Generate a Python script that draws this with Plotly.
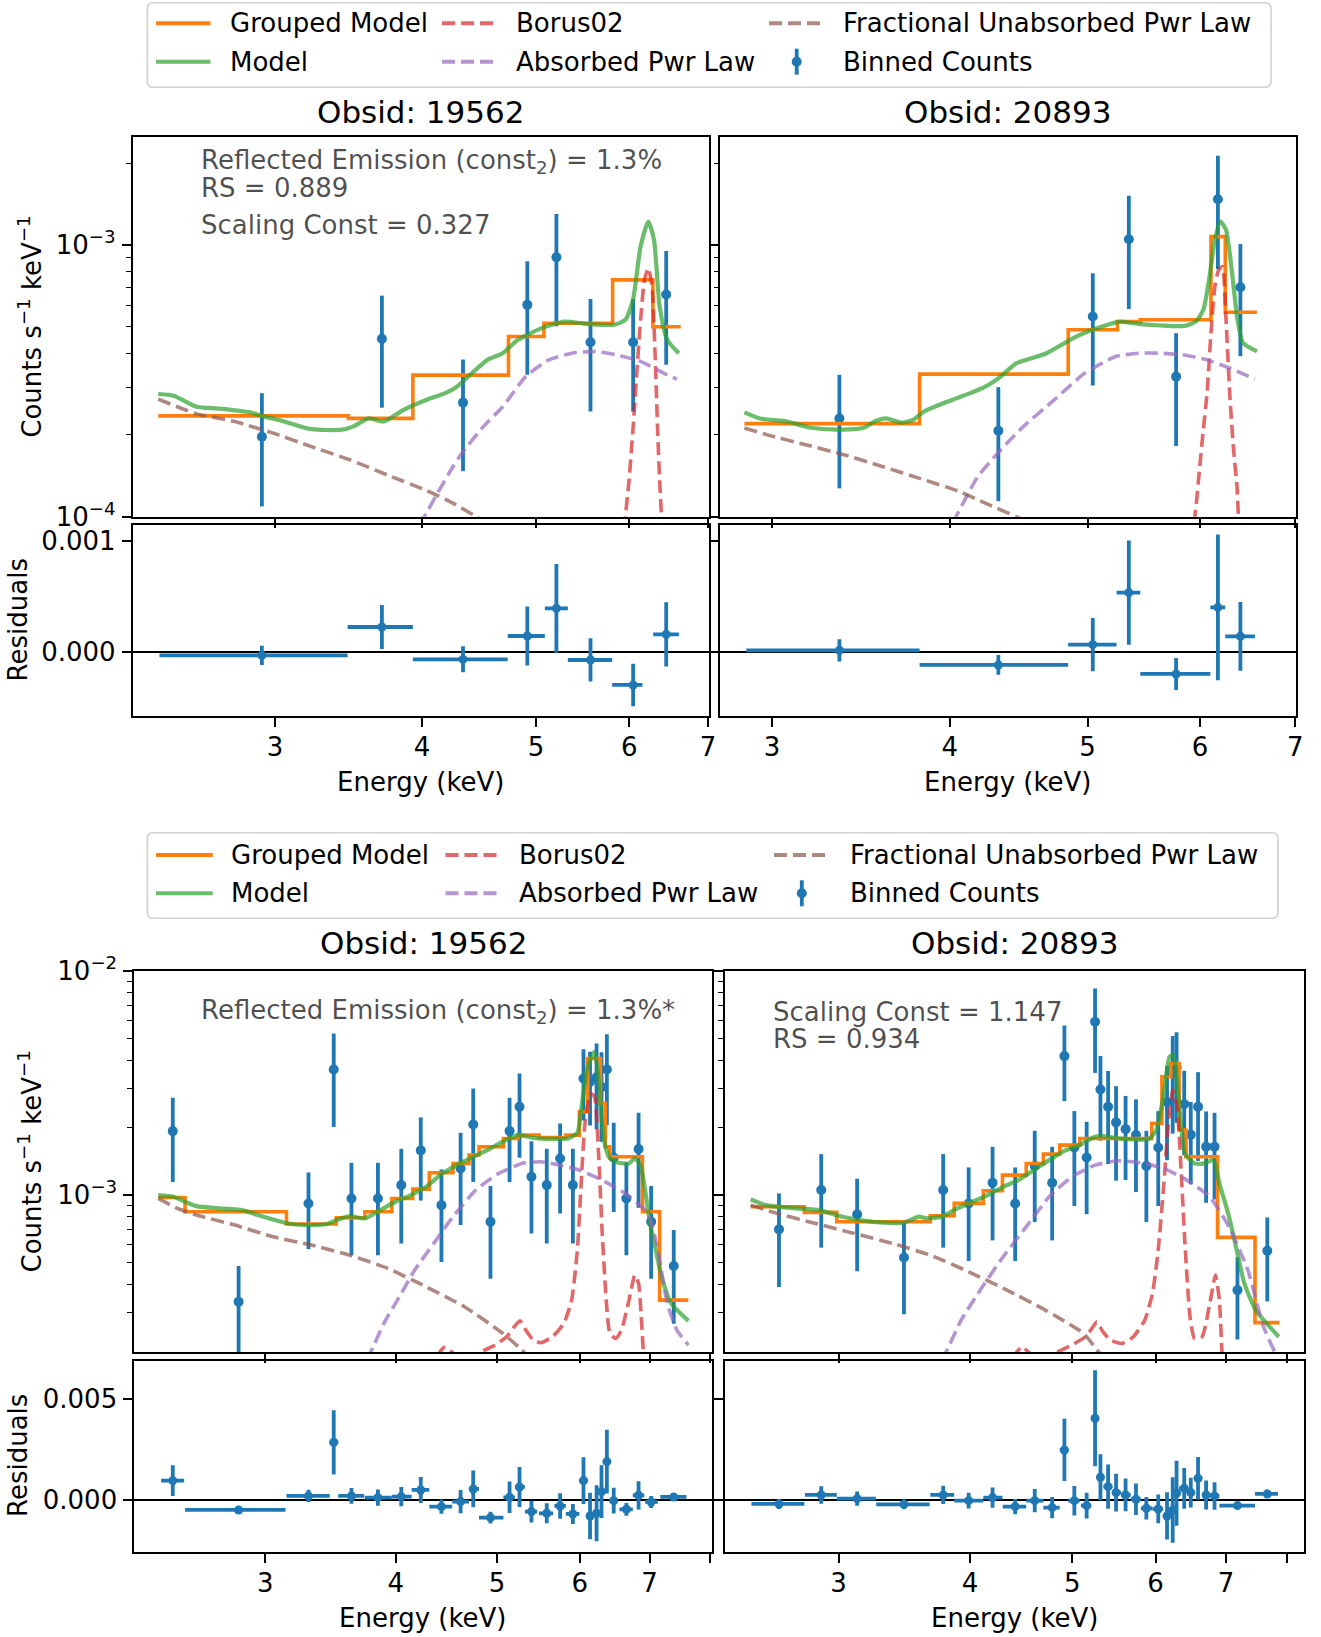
import plotly.graph_objects as go

FONT = "DejaVu Sans"
W, H = 1321, 1637
BLUE = "#1f77b4"
ORANGE = "#ff7f0e"
GREEN = "rgba(44,160,44,0.7)"
RED = "rgba(214,39,40,0.7)"
PURPLE = "rgba(148,103,189,0.7)"
BROWN = "rgba(140,86,75,0.7)"
DASH = "13px,6px"

# ---------------- Fit 1, Obsid 19562 ----------------
tl_E = [2.924, 3.698, 4.334, 4.915, 5.203, 5.562, 6.046, 6.450]
tl_counts = [1.97e-4, 4.52e-4, 2.63e-4, 6.03e-4, 9.03e-4, 4.39e-4, 4.39e-4, 6.58e-4]
tl_err = [0.88e-4, 2.0e-4, 1.16e-4, 2.7e-4, 4.0e-4, 1.95e-4, 1.95e-4, 2.95e-4]
tl_res = [-0.030e-3, 0.225e-3, -0.066e-3, 0.144e-3, 0.393e-3, -0.072e-3, -0.297e-3, 0.159e-3]
tl_res_err = [0.087e-3, 0.198e-3, 0.117e-3, 0.266e-3, 0.40e-3, 0.195e-3, 0.192e-3, 0.29e-3]
tl_bin_lo = [2.393, 3.458, 3.929, 4.730, 5.087, 5.321, 5.803, 6.288]
tl_bin_hi = [3.458, 3.929, 4.730, 5.087, 5.321, 5.803, 6.157, 6.612]
tl_grp_edges = [2.387, 3.464, 3.929, 4.737, 5.078, 5.808, 6.284, 6.636]
tl_grp_vals = [2.35e-4, 2.30e-4, 3.32e-4, 4.61e-4, 5.16e-4, 7.45e-4, 5.01e-4]
tl_model_E = [2.387, 2.460, 2.573, 2.691, 2.857, 2.922, 3.034, 3.221, 3.420, 3.498, 3.604,
              3.713, 3.855, 4.033, 4.187, 4.282, 4.412, 4.546, 4.684, 4.826, 5.049, 5.281,
              5.524, 5.821, 5.954, 6.044, 6.135, 6.228, 6.298, 6.368, 6.464, 6.611]
tl_model = [2.83e-4, 2.79e-4, 2.54e-4, 2.50e-4, 2.42e-4, 2.35e-4, 2.26e-4, 2.10e-4, 2.09e-4,
            2.15e-4, 2.30e-4, 2.24e-4, 2.47e-4, 2.69e-4, 2.85e-4, 3.01e-4, 3.38e-4, 3.78e-4,
            4.00e-4, 4.48e-4, 4.94e-4, 5.23e-4, 5.13e-4, 5.09e-4, 5.31e-4, 6.29e-4, 9.89e-4,
            1.222e-3, 1.047e-3, 5.94e-4, 4.48e-4, 4.00e-4]
tl_borus_E = [5.93, 5.954, 5.998, 6.044, 6.089, 6.135, 6.181, 6.228, 6.274, 6.311, 6.344, 6.368, 6.392, 6.41]
tl_borus = [9e-5, 1.0e-4, 1.36e-4, 2.09e-4, 3.38e-4, 5.31e-4, 7.45e-4, 8.23e-4, 7.05e-4,
            4.00e-4, 2.03e-4, 1.36e-4, 1.0e-4, 9e-5]
tl_abs_E = [3.98, 4.018, 4.124, 4.250, 4.346, 4.512, 4.684, 4.899, 5.125, 5.361, 5.607, 5.864, 6.135, 6.417, 6.587]
tl_abs = [9.3e-5, 1.0e-4, 1.22e-4, 1.53e-4, 1.76e-4, 2.15e-4, 2.54e-4, 3.28e-4, 3.78e-4,
          4.00e-4, 4.06e-4, 3.94e-4, 3.73e-4, 3.38e-4, 3.21e-4]
tl_unabs_E = [2.387, 2.478, 2.573, 2.773, 2.989, 3.221, 3.472, 3.742, 4.033, 4.250, 4.446, 4.55]
tl_unabs = [2.71e-4, 2.54e-4, 2.39e-4, 2.24e-4, 2.03e-4, 1.81e-4, 1.62e-4, 1.42e-4, 1.25e-4,
            1.12e-4, 1.0e-4, 9.4e-5]

# ---------------- Fit 1, Obsid 20893 ----------------
tr_E = [3.346, 4.328, 5.043, 5.346, 5.771, 6.175, 6.404]
tr_counts = [2.30e-4, 2.07e-4, 5.46e-4, 1.052e-3, 3.28e-4, 1.477e-3, 7.00e-4]
tr_err = [1.03e-4, 0.93e-4, 2.42e-4, 4.7e-4, 1.46e-4, 6.6e-4, 3.1e-4]
tr_res = [0.015e-3, -0.117e-3, 0.066e-3, 0.535e-3, -0.198e-3, 0.402e-3, 0.141e-3]
tr_res_err = [0.10e-3, 0.089e-3, 0.24e-3, 0.47e-3, 0.144e-3, 0.656e-3, 0.31e-3]
tr_bin_lo = [2.878, 3.810, 4.846, 5.241, 5.446, 6.100, 6.249]
tr_bin_hi = [3.810, 4.846, 5.241, 5.446, 6.100, 6.249, 6.557]
tr_grp_edges = [2.869, 3.810, 4.846, 5.248, 5.446, 6.106, 6.249, 6.578]
tr_grp_vals = [2.20e-4, 3.35e-4, 4.88e-4, 5.23e-4, 5.31e-4, 1.076e-3, 5.66e-4]
tr_model_E = [2.869, 2.942, 3.072, 3.188, 3.329, 3.477, 3.542, 3.608, 3.698, 3.768, 3.838, 3.984,
              4.135, 4.238, 4.344, 4.454, 4.565, 4.679, 4.793, 4.913, 5.04, 5.167, 5.264, 5.429,
              5.634, 5.848, 5.957, 6.031, 6.087, 6.145, 6.199, 6.257, 6.315, 6.374, 6.433, 6.578]
tr_model = [2.42e-4, 2.30e-4, 2.24e-4, 2.13e-4, 2.09e-4, 2.12e-4, 2.24e-4, 2.30e-4, 2.22e-4,
            2.27e-4, 2.44e-4, 2.65e-4, 2.85e-4, 3.01e-4, 3.28e-4, 3.67e-4, 3.83e-4, 4.00e-4,
            4.29e-4, 4.61e-4, 4.88e-4, 5.09e-4, 5.23e-4, 5.13e-4, 5.06e-4, 5.04e-4, 5.23e-4,
            5.78e-4, 7.45e-4, 1.047e-3, 1.222e-3, 1.139e-3, 8.11e-4, 5.31e-4, 4.36e-4, 4.06e-4]
tr_borus_E = [5.94, 5.957, 5.994, 6.031, 6.068, 6.106, 6.145, 6.183, 6.221, 6.257, 6.298, 6.337, 6.369, 6.384, 6.39]
tr_borus = [9.5e-5, 1.06e-4, 1.49e-4, 2.09e-4, 2.85e-4, 4.74e-4, 7.05e-4, 8.11e-4, 8.34e-4,
            5.31e-4, 2.69e-4, 1.71e-4, 1.29e-4, 1.0e-4, 9.5e-5]
tr_abs_E = [4.02, 4.053, 4.185, 4.344, 4.508, 4.737, 4.979, 5.232, 5.429, 5.634, 5.848, 6.068, 6.298, 6.557]
tr_abs = [9.5e-5, 1.03e-4, 1.40e-4, 1.76e-4, 2.15e-4, 2.69e-4, 3.38e-4, 3.89e-4, 4.00e-4,
          4.00e-4, 3.94e-4, 3.78e-4, 3.52e-4, 3.21e-4]
tr_unabs_E = [2.869, 2.978, 3.168, 3.371, 3.586, 3.815, 4.058, 4.238, 4.454, 4.55]
tr_unabs = [2.12e-4, 2.00e-4, 1.84e-4, 1.69e-4, 1.53e-4, 1.38e-4, 1.24e-4, 1.12e-4, 1.0e-4, 9.5e-5]

# ---------------- Fit 2, Obsid 19562 ----------------
bl_E = [2.446, 2.828, 3.299, 3.488, 3.627, 3.845, 4.048, 4.226, 4.423, 4.614, 4.744, 4.928, 5.140,
        5.254, 5.394, 5.579, 5.746, 5.910, 6.050, 6.138, 6.227, 6.295, 6.370, 6.467, 6.650, 6.831,
        7.023, 7.382]
bl_counts = [1.929e-3, 3.345e-4, 9.18e-4, 3.633e-3, 9.66e-4, 9.66e-4, 1.108e-3, 1.582e-3, 9.02e-4,
             1.315e-3, 2.065e-3, 7.605e-4, 1.929e-3, 2.476e-3, 1.207e-3, 1.108e-3, 1.457e-3,
             1.108e-3, 3.311e-3, 3.2e-3, 3.35e-3, 3.03e-3, 3.633e-3, 1.470e-3, 9.66e-4, 1.603e-3,
             7.605e-4, 4.826e-4]
bl_err = [7.85e-4, 1.48e-4, 3.44e-4, 1.62e-3, 4.27e-4, 4.27e-4, 5.0e-4, 6.37e-4, 3.99e-4, 5.8e-4,
          9.2e-4, 3.37e-4, 7.85e-4, 1.01e-3, 5.33e-4, 5.0e-4, 6.3e-4, 5.0e-4, 1.16e-3, 1.155e-3,
          1.386e-3, 1.30e-3, 1.58e-3, 6.3e-4, 4.27e-4, 7.25e-4, 3.37e-4, 2.16e-4]
bl_res = [0.974e-3, -0.479e-3, 0.215e-3, 2.871e-3, 0.215e-3, 0.132e-3, 0.182e-3, 0.512e-3,
          -0.314e-3, -0.066e-3, 0.561e-3, -0.858e-3, 0.149e-3, 0.660e-3, -0.561e-3, -0.644e-3,
          -0.281e-3, -0.677e-3, 0.974e-3, -0.776e-3, -0.644e-3, 0.429e-3, 1.914e-3, -0.02e-3,
          -0.446e-3, 0.248e-3, -0.083e-3, 0.165e-3]
bl_res_err = [0.759e-3, 0.165e-3, 0.305e-3, 1.59e-3, 0.388e-3, 0.404e-3, 0.479e-3, 0.644e-3,
              0.347e-3, 0.578e-3, 0.908e-3, 0.289e-3, 0.784e-3, 0.99e-3, 0.536e-3, 0.495e-3,
              0.627e-3, 0.495e-3, 1.155e-3, 1.155e-3, 1.386e-3, 1.30e-3, 1.584e-3, 0.635e-3,
              0.314e-3, 0.70e-3, 0.297e-3, 0.18e-3]
bl_bin_lo = [2.384, 2.513, 3.143, 3.457, 3.523, 3.735, 3.965, 4.142, 4.306, 4.529, 4.700, 4.805,
             5.071, 5.201, 5.317, 5.485, 5.674, 5.819, 5.995, 6.107, 6.180, 6.264, 6.337, 6.412,
             6.549, 6.745, 6.931, 7.167]
bl_bin_hi = [2.508, 3.136, 3.457, 3.523, 3.730, 3.965, 4.142, 4.306, 4.529, 4.700, 4.805, 5.071,
             5.201, 5.317, 5.462, 5.659, 5.819, 5.995, 6.107, 6.180, 6.264, 6.337, 6.412, 6.522,
             6.745, 6.918, 7.127, 7.591]
bl_grp_edges = [2.369, 2.513, 3.143, 3.507, 3.736, 3.965, 4.152, 4.306, 4.537, 4.700, 4.805, 5.071,
                5.236, 5.485, 5.674, 5.819, 5.995, 6.107, 6.280, 6.349, 6.412, 6.890, 7.156, 7.625]
bl_grp_vals = [9.76e-4, 8.43e-4, 7.43e-4, 7.93e-4, 8.43e-4, 9.66e-4, 1.063e-3, 1.258e-3, 1.384e-3,
               1.508e-3, 1.642e-3, 1.789e-3, 1.851e-3, 1.807e-3, 1.807e-3, 1.851e-3, 2.352e-3,
               4.066e-3, 2.562e-3, 1.642e-3, 1.483e-3, 8.43e-4, 3.40e-4]
bl_model_E = [2.369, 2.449, 2.513, 2.577, 2.711, 2.852, 2.950, 3.051, 3.156, 3.320, 3.434, 3.523,
              3.612, 3.736, 3.865, 3.998, 4.135, 4.277, 4.423, 4.575, 4.732, 4.894, 5.063, 5.236,
              5.416, 5.603, 5.844, 5.969, 6.019, 6.095, 6.157, 6.199, 6.252, 6.294, 6.349, 6.412,
              6.522, 6.689, 6.774, 6.860, 6.930, 7.006, 7.096, 7.187, 7.340, 7.625]
bl_model = [1.0e-3, 9.83e-4, 9.34e-4, 8.93e-4, 8.72e-4, 8.57e-4, 8.15e-4, 7.79e-4, 7.47e-4, 7.35e-4,
            7.43e-4, 7.79e-4, 8.06e-4, 7.87e-4, 8.57e-4, 9.34e-4, 1.0e-3, 1.089e-3, 1.241e-3,
            1.360e-3, 1.472e-3, 1.587e-3, 1.729e-3, 1.851e-3, 1.80e-3, 1.782e-3, 1.789e-3,
            1.896e-3, 2.392e-3, 3.607e-3, 4.136e-3, 4.355e-3, 3.369e-3, 2.234e-3, 1.642e-3,
            1.457e-3, 1.398e-3, 1.384e-3, 1.457e-3, 1.360e-3, 1.053e-3, 7.47e-4, 5.69e-4, 4.33e-4,
            3.29e-4, 2.75e-4]
bl_borus_E = [4.38, 4.405, 4.454, 4.499, 4.529, 4.652, 4.813, 4.979, 5.107, 5.194, 5.260, 5.327,
              5.416, 5.508, 5.650, 5.794, 5.894, 5.969, 6.019, 6.070, 6.148, 6.199, 6.252, 6.305,
              6.361, 6.412, 6.495, 6.578, 6.689, 6.774, 6.831, 6.872, 6.907, 6.93]
bl_borus = [1.9e-4, 1.99e-4, 2.094e-4, 2.05e-4, 1.99e-4, 1.84e-4, 1.99e-4, 2.145e-4, 2.335e-4,
            2.588e-4, 2.753e-4, 2.50e-4, 2.257e-4, 2.197e-4, 2.335e-4, 2.68e-4, 3.40e-4, 5.69e-4,
            1.127e-3, 2.087e-3, 2.839e-3, 2.744e-3, 1.587e-3, 6.75e-4, 3.40e-4, 2.42e-4, 2.297e-4,
            2.50e-4, 3.40e-4, 4.40e-4, 4.04e-4, 2.87e-4, 1.99e-4, 1.9e-4]
bl_abs_E = [3.75, 3.784, 3.896, 4.031, 4.170, 4.349, 4.537, 4.771, 5.018, 5.281, 5.508, 5.746,
            5.995, 6.305, 6.633, 6.978, 7.127, 7.278, 7.433, 7.625]
bl_abs = [1.85e-4, 1.99e-4, 2.68e-4, 3.52e-4, 4.63e-4, 6.09e-4, 8.01e-4, 1.053e-3, 1.249e-3,
          1.384e-3, 1.408e-3, 1.360e-3, 1.292e-3, 1.166e-3, 1.017e-3, 8.28e-4, 5.69e-4, 3.29e-4,
          2.50e-4, 2.145e-4]
bl_unabs_E = [2.369, 2.470, 2.577, 2.804, 3.051, 3.320, 3.612, 3.931, 4.277, 4.652, 5.063, 5.281, 5.35]
bl_unabs = [9.66e-4, 8.72e-4, 8.15e-4, 7.35e-4, 6.52e-4, 5.99e-4, 5.40e-4, 4.71e-4, 3.90e-4,
            3.18e-4, 2.42e-4, 2.04e-4, 1.9e-4]

# ---------------- Fit 2, Obsid 20893 ----------------
br_E = [2.633, 2.888, 3.124, 3.461, 3.771, 3.987, 4.201, 4.414, 4.607, 4.786, 4.916, 5.024, 5.161,
        5.257, 5.319, 5.409, 5.504, 5.620, 5.749, 5.881, 6.036, 6.153, 6.230, 6.283, 6.389, 6.481,
        6.585, 6.702, 6.827, 7.178, 7.662]
br_counts = [7.03e-4, 1.053e-3, 8.20e-4, 5.27e-4, 1.053e-3, 9.18e-4, 1.135e-3, 9.18e-4, 1.347e-3,
             1.135e-3, 4.165e-3, 1.631e-3, 1.472e-3, 5.925e-3, 2.958e-3, 2.476e-3, 2.109e-3,
             1.968e-3, 1.851e-3, 1.347e-3, 1.631e-3, 2.6e-3, 3.5e-3, 3.71e-3, 2.544e-3, 1.86e-3,
             2.476e-3, 1.642e-3, 1.642e-3, 3.77e-4, 5.65e-4]
br_err = [3.14e-4, 4.7e-4, 3.63e-4, 2.33e-4, 4.7e-4, 4.1e-4, 5.07e-4, 4.1e-4, 5.88e-4, 5.07e-4,
          1.54e-3, 7.37e-4, 6.5e-4, 2.42e-3, 1.21e-3, 1.10e-3, 0.95e-3, 0.80e-3, 0.82e-3, 5.88e-4,
          7.37e-4, 1.17e-3, 1.62e-3, 1.61e-3, 1.04e-3, 0.743e-3, 1.056e-3, 0.718e-3, 0.685e-3,
          1.5e-4, 2.3e-4]
br_res = [-0.182e-3, 0.264e-3, 0.083e-3, -0.198e-3, 0.264e-3, -0.017e-3, 0.132e-3, -0.314e-3,
          -0.017e-3, -0.363e-3, 2.492e-3, -0.017e-3, -0.264e-3, 4.059e-3, 1.139e-3, 0.677e-3,
          0.380e-3, 0.264e-3, 0.050e-3, -0.396e-3, -0.429e-3, -0.776e-3, -0.479e-3, 0.347e-3,
          0.594e-3, 0.380e-3, 1.089e-3, 0.264e-3, 0.215e-3, -0.264e-3, 0.314e-3]
br_res_err = [0.25e-3, 0.43e-3, 0.35e-3, 0.25e-3, 0.45e-3, 0.39e-3, 0.50e-3, 0.38e-3, 0.58e-3,
              0.52e-3, 1.54e-3, 0.73e-3, 0.64e-3, 2.38e-3, 1.14e-3, 1.09e-3, 0.93e-3, 0.81e-3,
              0.78e-3, 0.56e-3, 0.71e-3, 1.17e-3, 1.62e-3, 1.61e-3, 1.01e-3, 0.74e-3, 1.06e-3,
              0.72e-3, 0.68e-3, 0.124e-3, 0.206e-3]
br_bin_lo = [2.479, 2.787, 2.988, 3.257, 3.666, 3.863, 4.117, 4.296, 4.522, 4.695, 4.866, 4.957,
             5.097, 5.213, 5.292, 5.354, 5.459, 5.565, 5.683, 5.811, 5.960, 6.100, 6.194, 6.255,
             6.318, 6.435, 6.534, 6.644, 6.767, 6.900, 7.459]
br_bin_hi = [2.783, 2.988, 3.254, 3.661, 3.863, 4.117, 4.293, 4.522, 4.695, 4.866, 4.957, 5.083,
             5.213, 5.292, 5.354, 5.459, 5.565, 5.683, 5.811, 5.960, 6.100, 6.194, 6.255, 6.318,
             6.435, 6.534, 6.644, 6.767, 6.900, 7.459, 7.844]
br_grp_edges = [2.475, 2.783, 2.988, 3.666, 3.863, 4.117, 4.293, 4.522, 4.695, 4.866, 5.083, 5.950,
                6.085, 6.204, 6.318, 6.414, 6.872, 7.459, 7.870]
br_grp_vals = [8.87e-4, 8.37e-4, 7.60e-4, 8.09e-4, 9.18e-4, 1.045e-3, 1.228e-3, 1.384e-3, 1.523e-3,
               1.671e-3, 1.789e-3, 2.087e-3, 3.369e-3, 3.862e-3, 1.949e-3, 1.483e-3, 6.48e-4, 2.70e-4]
br_model_E = [2.475, 2.559, 2.736, 2.877, 3.025, 3.235, 3.458, 3.576, 3.636, 3.760, 3.888, 4.021,
              4.157, 4.300, 4.446, 4.598, 4.755, 4.916, 5.083, 5.257, 5.346, 5.528, 5.716, 5.910,
              6.010, 6.111, 6.187, 6.239, 6.291, 6.343, 6.399, 6.534, 6.672, 6.813, 6.900, 7.047,
              7.166, 7.287, 7.472, 7.857]
br_model = [9.565e-4, 9.02e-4, 8.72e-4, 8.57e-4, 8.01e-4, 7.60e-4, 7.53e-4, 8.01e-4, 7.87e-4,
            8.01e-4, 8.72e-4, 9.34e-4, 1.0e-3, 1.089e-3, 1.166e-3, 1.292e-3, 1.432e-3, 1.576e-3,
            1.671e-3, 1.820e-3, 1.832e-3, 1.789e-3, 1.770e-3, 1.776e-3, 1.949e-3, 2.839e-3,
            4.136e-3, 4.208e-3, 3.146e-3, 2.087e-3, 1.533e-3, 1.384e-3, 1.384e-3, 1.432e-3,
            1.127e-3, 8.01e-4, 5.69e-4, 4.04e-4, 3.07e-4, 2.335e-4]
br_borus_E = [4.40, 4.428, 4.484, 4.541, 4.676, 4.835, 4.998, 5.147, 5.234, 5.278, 5.346, 5.437,
              5.575, 5.716, 5.861, 5.960, 6.036, 6.111, 6.172, 6.230, 6.291, 6.343, 6.399, 6.470,
              6.534, 6.644, 6.757, 6.841, 6.900, 6.940, 6.96]
br_borus = [1.85e-4, 1.99e-4, 2.108e-4, 2.0e-4, 1.84e-4, 1.99e-4, 2.145e-4, 2.335e-4, 2.588e-4,
            2.725e-4, 2.46e-4, 2.257e-4, 2.18e-4, 2.335e-4, 2.77e-4, 3.64e-4, 5.69e-4, 1.127e-3,
            2.087e-3, 2.938e-3, 2.476e-3, 1.337e-3, 6.09e-4, 2.87e-4, 2.297e-4, 2.335e-4, 3.29e-4,
            4.40e-4, 3.40e-4, 1.99e-4, 1.85e-4]
br_abs_E = [3.75, 3.793, 3.922, 4.089, 4.300, 4.522, 4.755, 4.998, 5.257, 5.528, 5.811, 6.111,
            6.427, 6.757, 7.047, 7.346, 7.597, 7.790, 7.9]
br_abs = [1.85e-4, 1.99e-4, 2.77e-4, 3.77e-4, 5.31e-4, 7.22e-4, 9.83e-4, 1.207e-3, 1.360e-3,
          1.422e-3, 1.393e-3, 1.315e-3, 1.166e-3, 9.83e-4, 7.22e-4, 4.6e-4, 2.6e-4, 2.0e-4, 1.85e-4]
br_unabs_E = [2.475, 2.624, 2.853, 3.102, 3.373, 3.666, 3.987, 4.336, 4.714, 5.126, 5.302, 5.4]
br_unabs = [9.02e-4, 8.28e-4, 7.47e-4, 6.75e-4, 6.09e-4, 5.40e-4, 4.55e-4, 3.77e-4, 3.07e-4,
            2.42e-4, 1.99e-4, 1.85e-4]

x_ticks_top = [3, 4, 5, 6, 7]
x_ticks_bottom = [3, 4, 5, 6, 7, 8]
x_labels_bottom = ["3", "4", "5", "6", "7", ""]

legend_labels = ["Grouped Model", "Borus02", "Fractional Unabsorbed Pwr Law",
                 "Model", "Absorbed Pwr Law", "Binned Counts"]
obsids = ["Obsid: 19562", "Obsid: 20893"]


def fx(px):
    return px / W


def fy(py):
    return 1 - py / H


def ref(n):
    return "" if n == 1 else str(n)


fig = go.Figure()
AX = dict(showline=True, linecolor="black", linewidth=1.6, mirror=True, ticks="outside",
          ticklen=9, tickwidth=1.5, tickcolor="black", showgrid=False, zeroline=False,
          automargin=False, tickfont=dict(family=FONT, size=26, color="black"))


def add_panel(n, d, xpx, main_ypx, res_ypx, xr, main_yr, res_yr, ymain_ticks, ymain_text,
              yminor, yres_ticks, yres_text, xticks, xtext, show_y):
    m = n + 1
    xa, ya, xb, yb = "x" + ref(n), "y" + ref(n), "x" + ref(m), "y" + ref(m)
    # measured spectrum
    fig.add_trace(go.Scatter(x=d["E"], y=d["counts"], mode="markers", xaxis=xa, yaxis=ya,
                             marker=dict(color=BLUE, size=10),
                             error_y=dict(type="data", array=d["err"], color=BLUE, thickness=3.8, width=0),
                             showlegend=False, hoverinfo="skip"))
    # grouped model (step per bin)
    fig.add_trace(go.Scatter(x=d["grp_edges"], y=d["grp_vals"] + [d["grp_vals"][-1]], mode="lines",
                             line=dict(color=ORANGE, width=3.6, shape="hv"), xaxis=xa, yaxis=ya,
                             showlegend=False, hoverinfo="skip"))
    fig.add_trace(go.Scatter(x=d["model_E"], y=d["model"], mode="lines",
                             line=dict(color=GREEN, width=4.2, shape="spline", smoothing=0.6),
                             xaxis=xa, yaxis=ya, showlegend=False, hoverinfo="skip"))
    for key, col in (("borus", RED), ("abs", PURPLE), ("unabs", BROWN)):
        fig.add_trace(go.Scatter(x=d[key + "_E"], y=d[key], mode="lines",
                                 line=dict(color=col, width=3.6, dash=DASH, shape="spline", smoothing=0.5),
                                 xaxis=xa, yaxis=ya, showlegend=False, hoverinfo="skip"))
    # residuals
    fig.add_trace(go.Scatter(x=d["E"], y=d["res"], mode="markers", xaxis=xb, yaxis=yb,
                             marker=dict(color=BLUE, size=9),
                             error_y=dict(type="data", array=d["res_err"], color=BLUE, thickness=3.8, width=0),
                             error_x=dict(type="data", symmetric=False,
                                          array=[h - e for h, e in zip(d["bin_hi"], d["E"])],
                                          arrayminus=[e - l for e, l in zip(d["E"], d["bin_lo"])],
                                          color=BLUE, thickness=3.8, width=0),
                             showlegend=False, hoverinfo="skip"))
    dom_x = [fx(xpx[0]), fx(xpx[1])]
    fig.layout["xaxis" + ref(n)] = dict(AX, domain=dom_x, anchor=ya, type="log", range=xr,
                                        tickmode="array", tickvals=xticks, showticklabels=False)
    fig.layout["yaxis" + ref(n)] = dict(AX, domain=[fy(main_ypx[1]), fy(main_ypx[0])], anchor=xa,
                                        type="log", range=main_yr, tickmode="array",
                                        tickvals=ymain_ticks, ticktext=ymain_text,
                                        showticklabels=show_y, ticklabelstandoff=1,
                                        minor=dict(tickmode="array", tickvals=yminor, ticks="outside",
                                                   ticklen=5, tickwidth=1.2, tickcolor="black"))
    fig.layout["xaxis" + ref(m)] = dict(AX, domain=dom_x, anchor=yb, type="log", range=xr,
                                        tickmode="array", tickvals=xticks, ticktext=xtext,
                                        ticklabelstandoff=-2)
    fig.layout["yaxis" + ref(m)] = dict(AX, domain=[fy(res_ypx[1]), fy(res_ypx[0])], anchor=xb,
                                        range=res_yr, tickmode="array", tickvals=yres_ticks,
                                        ticktext=yres_text, showticklabels=show_y, ticklabelstandoff=1,
                                        zeroline=True, zerolinecolor="black", zerolinewidth=1.5)


def pack(p):
    g = globals()
    keys = ["E", "counts", "err", "res", "res_err", "bin_lo", "bin_hi", "grp_edges", "grp_vals",
            "model_E", "model", "borus_E", "borus", "abs_E", "abs", "unabs_E", "unabs"]
    return {k: g[p + "_" + k] for k in keys}


top_minor = [2e-4, 3e-4, 4e-4, 5e-4, 6e-4, 7e-4, 8e-4, 9e-4, 2e-3]
bot_minor = [3e-4, 4e-4, 5e-4, 6e-4, 7e-4, 8e-4, 9e-4, 2e-3, 3e-3, 4e-3, 5e-3, 6e-3, 7e-3, 8e-3, 9e-3]
top_main_text = ["10<sup>\u22124</sup>", "10<sup>\u22123</sup>"]
bot_main_text = ["10<sup>\u22123</sup>", "10<sup>\u22122</sup>"]

add_panel(1, pack("tl"), (132.6, 708.6), (136.7, 516.7), (525, 715.7), [0.3561, 0.8456],
          [-4.0005, -2.600], [-0.000574, 0.001144], [1e-4, 1e-3], top_main_text, top_minor,
          [0, 0.001], ["0.000", "0.001"], x_ticks_top, [str(t) for t in x_ticks_top], True)
add_panel(3, pack("tr"), (720.3, 1295.5), (136.7, 516.7), (525, 715.7), [0.4408, 0.8452],
          [-4.0005, -2.600], [-0.000574, 0.001144], [1e-4, 1e-3], top_main_text, top_minor,
          [0, 0.001], ["0.000", "0.001"], x_ticks_top, [str(t) for t in x_ticks_top], False)
add_panel(5, pack("bl"), (134.2, 712.4), (970.7, 1352.3), (1360.7, 1551.7), [0.3515, 0.9052],
          [-3.701, -1.9995], [-0.002545, 0.00691], [1e-3, 1e-2], bot_main_text, bot_minor,
          [0, 0.005], ["0.000", "0.005"], x_ticks_bottom, x_labels_bottom, True)
add_panel(7, pack("br"), (724.6, 1304.4), (970.7, 1352.3), (1360.7, 1551.7), [0.3688, 0.9196],
          [-3.701, -1.9995], [-0.002545, 0.00691], [1e-3, 1e-2], bot_main_text, bot_minor,
          [0, 0.005], ["0.000", "0.005"], x_ticks_bottom, x_labels_bottom, False)

annotations = []
shapes = []


def text(px, py, s, size=26, color="black", xanchor="center", angle=0):
    if xanchor == "left":
        px -= 3  # compensate for the annotation box padding
    annotations.append(dict(x=fx(px), y=fy(py), xref="paper", yref="paper", text=s, showarrow=False,
                            xanchor=xanchor, yanchor="middle", textangle=angle,
                            font=dict(family=FONT, size=size, color=color)))


def legend(box, rows, line_cols, text_cols, dot_x):
    x0, y0, x1, y1 = box
    r = 6
    path = (f"M {fx(x0 + r)},{fy(y0)} L {fx(x1 - r)},{fy(y0)} Q {fx(x1)},{fy(y0)} {fx(x1)},{fy(y0 + r)} "
            f"L {fx(x1)},{fy(y1 - r)} Q {fx(x1)},{fy(y1)} {fx(x1 - r)},{fy(y1)} "
            f"L {fx(x0 + r)},{fy(y1)} Q {fx(x0)},{fy(y1)} {fx(x0)},{fy(y1 - r)} "
            f"L {fx(x0)},{fy(y0 + r)} Q {fx(x0)},{fy(y0)} {fx(x0 + r)},{fy(y0)} Z")
    shapes.append(dict(type="path", path=path, xref="paper", yref="paper",
                       line=dict(color="#d0d0d0", width=1.6), fillcolor="rgba(255,255,255,0.8)",
                       layer="above"))
    styles = [(ORANGE, "solid"), (RED, DASH), (BROWN, DASH), (GREEN, "solid"), (PURPLE, DASH), None]
    for i, lab in enumerate(legend_labels):
        row, col = divmod(i, 3)
        yy = rows[row]
        text(text_cols[col], yy, lab, xanchor="left")
        st = styles[i]
        if st is not None:
            shapes.append(dict(type="line", xref="paper", yref="paper", x0=fx(line_cols[col][0]),
                               x1=fx(line_cols[col][1]), y0=fy(yy), y1=fy(yy),
                               line=dict(color=st[0], width=4, dash=st[1]), layer="above"))
        else:
            shapes.append(dict(type="line", xref="paper", yref="paper", x0=fx(dot_x), x1=fx(dot_x),
                               y0=fy(yy - 13), y1=fy(yy + 13), line=dict(color=BLUE, width=3.8),
                               layer="above"))
            shapes.append(dict(type="circle", xref="paper", yref="paper", x0=fx(dot_x - 5),
                               x1=fx(dot_x + 5), y0=fy(yy + 5), y1=fy(yy - 5), fillcolor=BLUE,
                               line=dict(color=BLUE, width=0), layer="above"))


legend((147.3, 2.7, 1271, 87.3), (23.3, 61.7),
       [(156, 210.5), (442, 496), (769, 823.6)], (231, 516.7, 844), 796.7)
legend((147.3, 832.7, 1278, 918.3), (855, 893.3),
       [(156, 212.7), (445.5, 500), (774, 829.5)], (232.4, 519.6, 851), 801.8)

# panel titles
text(420.6, 111.7, obsids[0], size=31)
text(1007.9, 111.7, obsids[1], size=31)
text(423.3, 943.3, obsids[0], size=31)
text(1014.5, 943.3, obsids[1], size=31)

# axis titles
for cx, cy in ((420.6, 781.7), (1007.9, 781.7), (423.3, 1618), (1014.5, 1618)):
    text(cx, cy, "Energy (keV)")
counts_lbl = "Counts s<sup>\u22121</sup> keV<sup>\u22121</sup>"
text(30, 326.7, counts_lbl, angle=-90)
text(30, 1161.5, counts_lbl, angle=-90)
text(18, 620.4, "Residuals", angle=-90)
text(18, 1456, "Residuals", angle=-90)

# fit annotations
GREY = "rgba(0,0,0,0.7)"
text(202.3, 161.7, "Reflected Emission (const<sub>2</sub>) = 1.3%", color=GREY, xanchor="left")
text(202.3, 188.3, "RS = 0.889", color=GREY, xanchor="left")
text(202.3, 225.0, "Scaling Const = 0.327", color=GREY, xanchor="left")
text(202.3, 1011.7, "Reflected Emission (const<sub>2</sub>) = 1.3%*", color=GREY, xanchor="left")
text(773.6, 1011.7, "Scaling Const = 1.147", color=GREY, xanchor="left")
text(773.6, 1039.3, "RS = 0.934", color=GREY, xanchor="left")

fig.update_layout(width=W, height=H, autosize=False, margin=dict(l=0, r=0, t=0, b=0, autoexpand=False),
                  paper_bgcolor="white", plot_bgcolor="white", showlegend=False,
                  font=dict(family=FONT, size=26, color="black"),
                  annotations=annotations, shapes=shapes)

fig.write_html("out.html")
